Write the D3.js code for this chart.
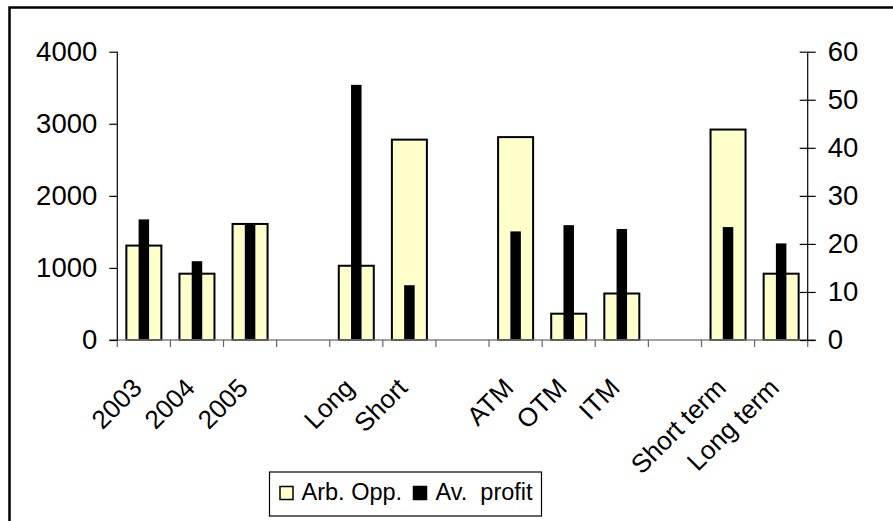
<!DOCTYPE html>
<html>
<head>
<meta charset="utf-8">
<script src="https://cdn.jsdelivr.net/npm/d3@7"></script>
<style>
  html, body { margin: 0; padding: 0; background: #fff; }
  svg { display: block; font-family: "Liberation Sans", Arial, sans-serif; }
</style>
</head>
<body>
<svg id="chart" width="893" height="521"></svg>
<script>
// ---- data ----
const categories = ["2003", "2004", "2005", "", "Long", "Short", "", "ATM", "OTM", "ITM", "", "Short term", "Long term"];
const arbOpp   = [1310, 920, 1610, null, 1030, 2780, null, 2815, 365, 645, null, 2920, 920];
const avProfit = [25.1, 16.4, 24.2, null, 53.1, 11.4, null, 22.6, 23.9, 23.1, null, 23.5, 20.1];
const leftTicks  = [0, 1000, 2000, 3000, 4000];
const rightTicks = [0, 10, 20, 30, 40, 50, 60];
const seriesNames = ["Arb. Opp.", "Av.  profit"];

const svg = d3.select("#chart");

// outer frame
svg.append("rect")
  .attr("x", 9.5).attr("y", 7.5)
  .attr("width", 900).attr("height", 530)
  .attr("fill", "none").attr("stroke", "#000").attr("stroke-width", 2.5);

const plot = { left: 117.3, right: 807.7, top: 51.7, bottom: 340 };

const x = d3.scaleBand()
  .domain(d3.range(categories.length))
  .range([plot.left, plot.right])
  .paddingInner(0).paddingOuter(0);

const yL = d3.scaleLinear().domain([0, 4000]).range([plot.bottom, plot.top]);
const yR = d3.scaleLinear().domain([0, 60]).range([plot.bottom, plot.top]);

const yellowW = 35;
const blackW = 10.5;

// yellow bars (primary axis)
svg.append("g").selectAll("rect")
  .data(arbOpp.map((v, i) => ({ v, i })).filter(d => d.v != null))
  .join("rect")
  .attr("x", d => x(d.i) + x.bandwidth() / 2 - yellowW / 2)
  .attr("y", d => yL(d.v))
  .attr("width", yellowW)
  .attr("height", d => yL(0) - yL(d.v))
  .attr("fill", "#FFFFCC")
  .attr("stroke", "#000")
  .attr("stroke-width", 2);

// black bars (secondary axis)
svg.append("g").selectAll("rect")
  .data(avProfit.map((v, i) => ({ v, i })).filter(d => d.v != null))
  .join("rect")
  .attr("x", d => x(d.i) + x.bandwidth() / 2 - blackW / 2)
  .attr("y", d => yR(d.v))
  .attr("width", blackW)
  .attr("height", d => yR(0) - yR(d.v))
  .attr("fill", "#000");

// x axis line + ticks at category boundaries
const xg = svg.append("g");
xg.append("line")
  .attr("x1", plot.left - 8).attr("x2", plot.right + 8)
  .attr("y1", plot.bottom).attr("y2", plot.bottom)
  .attr("stroke", "#808080").attr("stroke-width", 1.5);
const boundaries = d3.range(categories.length + 1).map(i => plot.left + i * x.bandwidth());
xg.selectAll("line.tick")
  .data(boundaries)
  .join("line")
  .attr("class", "tick")
  .attr("x1", d => d).attr("x2", d => d)
  .attr("y1", plot.bottom).attr("y2", plot.bottom + 7)
  .attr("stroke", "#666").attr("stroke-width", 1.2);

// category labels
xg.selectAll("text")
  .data(categories.map((c, i) => ({ c, i })).filter(d => d.c !== ""))
  .join("text")
  .attr("transform", d => `translate(${x(d.i) + x.bandwidth() / 2 - 0.5},${plot.bottom + 49.5}) rotate(-45)`)
  .attr("text-anchor", "end")
  .attr("font-size", 26)
  .attr("fill", "#000")
  .text(d => d.c);

// left axis
const gl = svg.append("g").attr("transform", `translate(${plot.left},0)`)
  .call(d3.axisLeft(yL).tickValues(leftTicks).tickSize(8).tickPadding(12).tickFormat(d3.format("d")));
gl.select(".domain").attr("stroke", "#000").attr("stroke-width", 1.2).attr("d", `M0,${plot.top}V${plot.bottom}`);
gl.selectAll(".tick line").attr("stroke", "#000").attr("stroke-width", 1.2);
gl.selectAll(".tick text").attr("font-size", 27.5).attr("font-family", "Liberation Sans, Arial, sans-serif").attr("fill", "#000");

// right axis (cross ticks)
const gr = svg.append("g").attr("transform", `translate(${plot.right},0)`)
  .call(d3.axisRight(yR).tickValues(rightTicks).tickSize(8).tickPadding(12).tickFormat(d3.format("d")));
gr.select(".domain").attr("stroke", "#000").attr("stroke-width", 1.2).attr("d", `M0,${plot.top}V${plot.bottom}`);
gr.selectAll(".tick line").attr("x1", -8).attr("stroke", "#000").attr("stroke-width", 1.2);
gr.selectAll(".tick text").attr("font-size", 27.5).attr("font-family", "Liberation Sans, Arial, sans-serif").attr("fill", "#000");

// legend
const lg = svg.append("g");
lg.append("rect")
  .attr("x", 269.5).attr("y", 472).attr("width", 272).attr("height", 44)
  .attr("fill", "#fff").attr("stroke", "#000").attr("stroke-width", 1.2);
const legendItems = [
  { name: seriesNames[0], fill: "#FFFFCC", sx: 280, tx: 301.5 },
  { name: seriesNames[1], fill: "#000", sx: 413.5, tx: 435.5 }
];
legendItems.forEach(it => {
  lg.append("rect")
    .attr("x", it.sx).attr("y", 486.5).attr("width", 13).attr("height", 13)
    .attr("fill", it.fill).attr("stroke", "#000").attr("stroke-width", 1.5);
  lg.append("text")
    .attr("x", it.tx).attr("y", 500)
    .attr("font-size", 23.5)
    .attr("fill", "#000")
    .style("white-space", "pre")
    .text(it.name);
});
</script>
</body>
</html>
